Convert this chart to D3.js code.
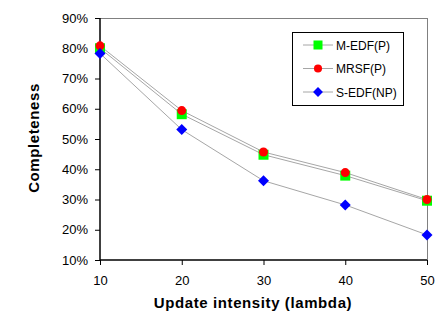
<!DOCTYPE html>
<html>
<head>
<meta charset="utf-8">
<script src="https://cdn.jsdelivr.net/npm/d3@7"></script>
<style>
  body { margin: 0; background: #fff; }
  svg { display: block; font-family: "Liberation Sans", Arial, sans-serif; }
</style>
</head>
<body>
<div id="chart"></div>
<script>
// data
let lambdas = [10, 20, 30, 40, 50];
let medf = [80.0, 58.2, 44.8, 37.9, 29.6];
let mrsf = [80.8, 59.4, 45.7, 38.9, 30.0];
let sedf = [78.3, 53.1, 36.2, 28.2, 18.3];
let yTicks = [10, 20, 30, 40, 50, 60, 70, 80, 90];
let seriesNames = ["M-EDF(P)", "MRSF(P)", "S-EDF(NP)"];

let w = 445;
let h = 328;
let padLeft = 100, padRight = 427, padTop = 18, padBottom = 260;

let viz = d3.select("#chart")
  .append("svg")
  .attr("width", w)
  .attr("height", h);

let xScale = d3.scaleLinear().domain([10, 50]).range([padLeft, padRight]);
let yScale = d3.scaleLinear().domain([10, 90]).range([padBottom, padTop]);

// frame: gray top and right lines
viz.append("line")
  .attr("x1", padLeft).attr("x2", padRight).attr("y1", padTop + 0.5).attr("y2", padTop + 0.5)
  .attr("stroke", "#808080").attr("stroke-width", 1);
viz.append("line")
  .attr("x1", padRight + 0.5).attr("x2", padRight + 0.5).attr("y1", padTop).attr("y2", padBottom)
  .attr("stroke", "#808080").attr("stroke-width", 1);

// axes
let xAxis = d3.axisBottom(xScale).tickValues(lambdas).tickSize(5).tickPadding(11);
let xAxisGroup = viz.append("g")
  .attr("transform", "translate(0," + padBottom + ")")
  .call(xAxis);

let yAxis = d3.axisLeft(yScale).tickValues(yTicks).tickSize(5).tickPadding(7)
  .tickFormat(function (d) { return d + "%"; });
let yAxisGroup = viz.append("g")
  .attr("transform", "translate(" + padLeft + ",0)")
  .call(yAxis);

[xAxisGroup, yAxisGroup].forEach(function (g) {
  g.select(".domain").attr("stroke", "#000").attr("stroke-width", 1.5);
  g.selectAll(".tick line").attr("stroke", "#000");
  g.selectAll("text").attr("font-size", 13).attr("fill", "#000")
    .style("font-family", "'Liberation Sans', Arial, sans-serif");
});
xAxisGroup.select(".domain").attr("d", "M" + padLeft + ",0H" + padRight);
yAxisGroup.select(".domain").attr("d", "M0," + padTop + "V" + padBottom);

// axis titles
viz.append("text")
  .attr("x", 253)
  .attr("y", 308)
  .attr("text-anchor", "middle")
  .attr("font-size", 15)
  .attr("font-weight", "bold")
  .attr("letter-spacing", 0.6)
  .text("Update intensity (lambda)");

viz.append("text")
  .attr("transform", "translate(39,138) rotate(-90)")
  .attr("text-anchor", "middle")
  .attr("font-size", 15)
  .attr("font-weight", "bold")
  .attr("letter-spacing", 0.6)
  .text("Completeness");

// series
let allSeries = [
  { name: seriesNames[0], values: medf, color: "#00ff00", shape: "square" },
  { name: seriesNames[1], values: mrsf, color: "#ff0000", shape: "circle" },
  { name: seriesNames[2], values: sedf, color: "#0000ff", shape: "diamond" }
];

let line = d3.line()
  .x(function (d, i) { return xScale(lambdas[i]); })
  .y(function (d) { return yScale(d); });

function marker(sel, s, x, y, k) {
  if (s.shape == "square") {
    sel.append("rect")
      .attr("x", x - 5 * k).attr("y", y - 5 * k)
      .attr("width", 10 * k).attr("height", 10 * k)
      .attr("fill", s.color);
  } else if (s.shape == "circle") {
    sel.append("circle")
      .attr("cx", x).attr("cy", y).attr("r", 4.5 * k)
      .attr("fill", s.color);
  } else {
    let r = 5.5 * k;
    sel.append("path")
      .attr("d", "M" + x + "," + (y - r) + "L" + (x + r) + "," + y +
        "L" + x + "," + (y + r) + "L" + (x - r) + "," + y + "Z")
      .attr("fill", s.color);
  }
}

allSeries.forEach(function (s) {
  viz.append("path")
    .datum(s.values)
    .attr("d", line)
    .attr("fill", "none")
    .attr("stroke", "#a6a6a6")
    .attr("stroke-width", 1);
});
allSeries.forEach(function (s) {
  let g = viz.append("g");
  s.values.forEach(function (v, i) {
    marker(g, s, xScale(lambdas[i]), yScale(v), 1);
  });
});

// legend
let legend = viz.append("g");
legend.append("rect")
  .attr("x", 292.5).attr("y", 32.5)
  .attr("width", 111).attr("height", 73)
  .attr("fill", "#fff")
  .attr("stroke", "#000")
  .attr("stroke-width", 1);
allSeries.forEach(function (s, i) {
  let ly = 45 + i * 23.5;
  legend.append("line")
    .attr("x1", 303).attr("x2", 333).attr("y1", ly).attr("y2", ly)
    .attr("stroke", "#a6a6a6");
  marker(legend, s, 318, ly, 0.9);
  legend.append("text")
    .attr("x", 336).attr("y", ly + 4.5)
    .attr("font-size", 12)
    .text(s.name);
});
</script>
</body>
</html>
